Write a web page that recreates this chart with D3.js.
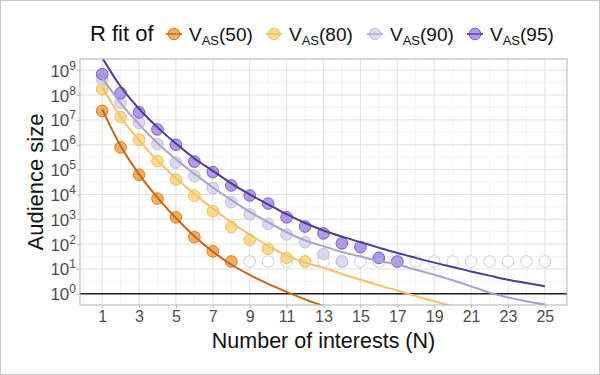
<!DOCTYPE html>
<html><head><meta charset="utf-8">
<script src="https://cdn.jsdelivr.net/npm/d3@7"></script>
<style>body{margin:0;background:#fff}svg{display:block;font-family:"Liberation Sans",Arial,Helvetica,sans-serif}</style>
</head><body><svg id="c" width="600" height="375"></svg>
<script>
// ---- data ----
const N = d3.range(1, 26);
const seriesNames = ["50", "80", "90", "95"];
// observed audience sizes (points)
const pts50 = [2.3e7, 7.8e5, 6.2e4, 6.8e3, 1.2e3, 190, 51, 20];
const pts80 = [1.7e8, 1.3e7, 1.6e6, 2.2e5, 4.0e4, 8.9e3, 2.1e3, 490, 150, 65, 28, 20];
const pts90 = [4.3e8, 4.9e7, 7.6e6, 1.05e6, 1.9e5, 5.4e4, 1.8e4, 4.9e3, 1.6e3, 660, 245, 120, 40, 20];
const pts95 = [6.9e8, 1.2e8, 2.0e7, 4.1e6, 1.0e6, 2.1e5, 7.9e4, 2.3e4, 9.1e3, 4.3e3, 1.2e3, 510, 270, 107, 76, 28, 20];
// floor values (N = 9..25), shown hollow
const floorN = d3.range(9, 26);
const floorValue = 20;
// R fit curves sampled at N = 1..
const fit50 = [2.7e7, 8.9e5, 6.6e4, 7.4e3, 1.12e3, 209, 50, 15.1, 5.75, 2.5, 1.2, 0.6, 0.32, 0.17];
const fit80 = [2.1e8, 1.3e7, 1.5e6, 2.3e5, 4.6e4, 1.05e4, 2.7e3, 760, 240, 85, 35, 18, 11.2, 6.3, 3.7, 2.2, 1.35, 0.81, 0.5, 0.32];
const fit90 = [5.0e8, 4.7e7, 6.6e6, 1.17e6, 2.6e5, 6.8e4, 1.9e4, 6.0e3, 2.0e3, 760, 300, 141, 83, 48, 32, 21, 15, 9.3, 5.9, 3.5, 2.0, 1.12, 0.71, 0.5, 0.37];
const fit95 = [3.2e9, 2.2e8, 2.8e7, 5.0e6, 1.12e6, 2.8e5, 8.9e4, 2.8e4, 1.0e4, 4.0e3, 1.6e3, 710, 355, 200, 120, 72, 44, 28, 18, 12, 7.9, 5.4, 3.7, 2.7, 2.0];
const xTicks = [1, 3, 5, 7, 9, 11, 13, 15, 17, 19, 21, 23, 25];
const yTickExps = [0, 1, 2, 3, 4, 5, 6, 7, 8, 9];

// ---- styles ----
const ptFill = ["#f0901f", "#fdce5e", "#d0caec", "#9674e2"];
const ptStroke = ["#d4801c", "#ecc060", "#c4bee0", "#7c5cc8"];
const lineCol = ["#c9661a", "#f4c06c", "#aaa4cc", "#4f3b8f"];
const pts = [pts50, pts80, pts90, pts95];
const fits = [fit50, fit80, fit90, fit95];

const svg = d3.select("#c");
const L = 80, R = 567, T = 59, B = 305;
const x = d3.scaleLinear().domain([-0.2, 26.2]).range([L, R]);
const y = d3.scaleLog().domain([Math.pow(10, -0.45), Math.pow(10, 9.45)]).range([B, T]);

svg.append("rect").attr("x", 0.5).attr("y", 0.5).attr("width", 599).attr("height", 374)
  .attr("fill", "#fff").attr("stroke", "#c8c8c8");

// grid
const g = svg.append("g");
const minorX = d3.range(0, 27, 2);
g.selectAll(".mx").data(minorX).join("line").attr("x1", d => x(d)).attr("x2", d => x(d))
  .attr("y1", T).attr("y2", B).attr("stroke", "#efefef").attr("stroke-width", 0.7);
const minorY = d3.range(0.5, 9, 1).map(e => Math.pow(10, e));
g.selectAll(".my").data(minorY).join("line").attr("y1", d => y(d)).attr("y2", d => y(d))
  .attr("x1", L).attr("x2", R).attr("stroke", "#efefef").attr("stroke-width", 0.7);
g.selectAll(".Mx").data(xTicks).join("line").attr("x1", d => x(d)).attr("x2", d => x(d))
  .attr("y1", T).attr("y2", B).attr("stroke", "#e0e0e0").attr("stroke-width", 1);
g.selectAll(".My").data(yTickExps).join("line").attr("y1", d => y(Math.pow(10, d))).attr("y2", d => y(Math.pow(10, d)))
  .attr("x1", L).attr("x2", R).attr("stroke", "#e0e0e0").attr("stroke-width", 1);

// clip
svg.append("clipPath").attr("id", "clip").append("rect").attr("x", L).attr("y", T).attr("width", R - L).attr("height", B - T);
const plot = svg.append("g").attr("clip-path", "url(#clip)");

// hline at 1
plot.append("line").attr("x1", L).attr("x2", R).attr("y1", y(1)).attr("y2", y(1)).attr("stroke", "#222").attr("stroke-width", 1.4);

// hollow floor points
plot.selectAll(".fl").data(floorN).join("circle").attr("cx", d => x(d)).attr("cy", y(floorValue)).attr("r", 5.8)
  .attr("fill", "#fff").attr("fill-opacity", 0.6).attr("stroke", "#d6d6d6").attr("stroke-width", 1.1);

// points
pts.forEach((arr, i) => {
  plot.selectAll(".p" + i).data(arr).join("circle").attr("cx", (d, j) => x(N[j])).attr("cy", d => y(d)).attr("r", 5.8)
    .attr("fill", ptFill[i]).attr("fill-opacity", 0.72).attr("stroke", ptStroke[i]).attr("stroke-width", 1);
});

// fit lines
const line = d3.line().x((d, j) => x(N[j])).y(d => y(d)).curve(d3.curveMonotoneX);
fits.forEach((arr, i) => {
  plot.append("path").datum(arr).attr("d", line).attr("fill", "none").attr("stroke", lineCol[i]).attr("stroke-width", 2);
});

// panel border
svg.append("rect").attr("x", L).attr("y", T).attr("width", R - L).attr("height", B - T)
  .attr("fill", "none").attr("stroke", "#b3b3b3").attr("stroke-width", 1);

// x axis
const xa = svg.append("g").attr("transform", `translate(0,${B})`)
  .call(d3.axisBottom(x).tickValues(xTicks).tickSize(3).tickPadding(3).tickFormat(d3.format("d")));
xa.select(".domain").remove();
xa.selectAll("line").attr("stroke", "#b3b3b3");
xa.selectAll("text").attr("fill", "#4d4d4d").style("font-size", "16px").attr("font-family", "Liberation Sans, Arial, sans-serif");

// y axis
const ya = svg.append("g").attr("transform", `translate(${L},0)`)
  .call(d3.axisLeft(y).tickValues(yTickExps.map(e => Math.pow(10, e))).tickSize(3).tickFormat(""));
ya.select(".domain").remove();
ya.selectAll("line").attr("stroke", "#b3b3b3");
ya.selectAll(".tick").each(function (d) {
  const e = Math.round(Math.log10(d));
  const t = d3.select(this).append("text").attr("x", -4).attr("y", 6).attr("text-anchor", "end")
    .attr("fill", "#4d4d4d").style("font-size", "17px");
  t.append("tspan").text("10");
  t.append("tspan").attr("dy", -7).style("font-size", "12px").text(e);
});

// titles
svg.append("text").attr("x", (L + R) / 2).attr("y", 348).attr("text-anchor", "middle")
  .style("font-size", "21.5px").attr("fill", "#111").text("Number of interests (N)");
svg.append("text").attr("transform", `translate(43,${(T + B) / 2}) rotate(-90)`).attr("text-anchor", "middle")
  .style("font-size", "22px").attr("fill", "#111").text("Audience size");

// legend
const lg = svg.append("g");
lg.append("text").attr("x", 90).attr("y", 41).style("font-size", "22px").attr("fill", "#111").text("R fit of");
const keyX = [174, 274, 375, 475];
seriesNames.forEach((s, i) => {
  const cx = keyX[i], cy = 34;
  lg.append("line").attr("x1", cx - 8).attr("x2", cx + 8).attr("y1", cy).attr("y2", cy).attr("stroke", lineCol[i]).attr("stroke-width", 1.6);
  lg.append("circle").attr("cx", cx).attr("cy", cy).attr("r", 5.8).attr("fill", ptFill[i]).attr("fill-opacity", 0.72)
    .attr("stroke", ptStroke[i]).attr("stroke-width", 1);
  lg.append("line").attr("x1", cx - 8).attr("x2", cx + 8).attr("y1", cy).attr("y2", cy).attr("stroke", lineCol[i]).attr("stroke-width", 1.2).attr("stroke-opacity", 0.7);
  const t = lg.append("text").attr("x", cx + 15).attr("y", 41).style("font-size", "19px").attr("fill", "#111");
  t.append("tspan").text("V");
  t.append("tspan").attr("dy", 4).style("font-size", "13px").text("AS");
  t.append("tspan").attr("dy", -4).text("(" + s + ")");
});
</script></body></html>
